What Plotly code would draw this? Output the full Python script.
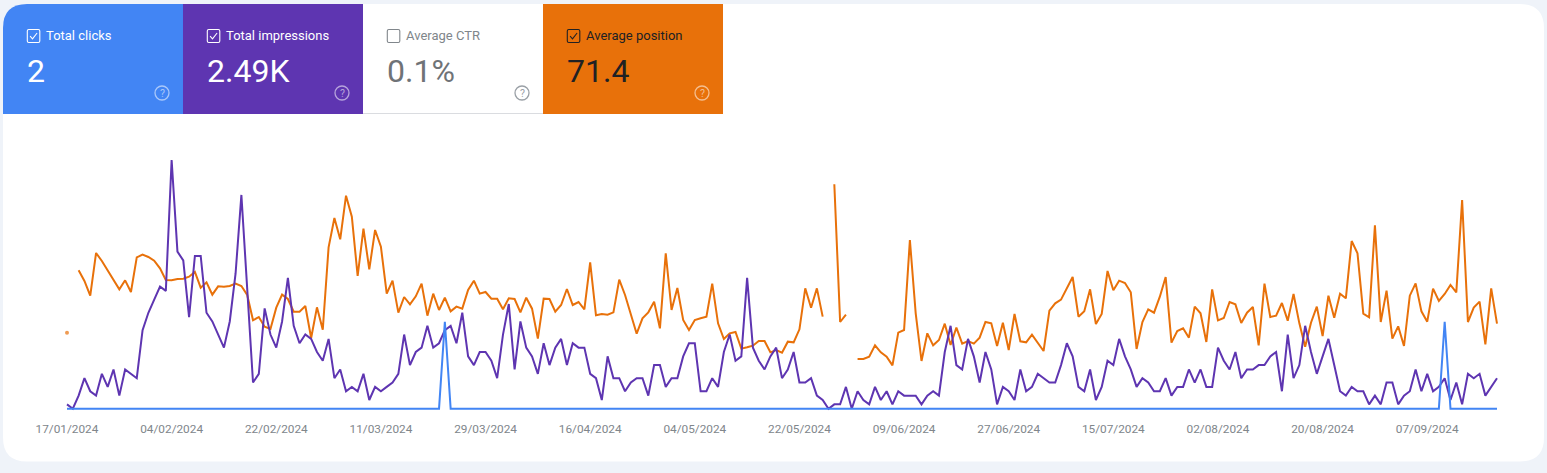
import datetime as dt
import plotly.graph_objects as go

W, H = 1547, 473
START = dt.date(2024, 1, 17)

impressions = [1,0,3,7,4,3,8,5,9,3,9,8,7,18,22,25,28,27,57,36,34,21,35,35,22,20,17,14,20,31,49,28,6,8,23,17,14,20,30,19,15,17,16,13,11,16,7,9,4,5,4,8,2,5,4,5,6,8,17,10,13,14,19,14,15,18,19,15,22,12,10,13,13,11,7,17,24,9,20,14,12,8,15,10,14,16,10,15,14,14,8,7,2,12,7,7,4,6,7,7,3,10,10,5,7,7,12,15,15,4,4,7,5,13,17,11,12,30,14,11,9,12,14,7,9,13,6,6,7,3,2,0,1,1,5,0,4,2,1,5,2,4,1,4,3,3,3,1,3,4,3,13,19,10,9,16,12,6,13,9,1,5,4,2,9,4,5,8,7,6,6,10,15,12,5,4,9,2,5,11,10,16,12,9,5,7,6,4,4,7,3,5,5,9,6,9,5,5,14,11,9,13,7,9,9,10,10,12,13,4,17,7,10,19,13,8,12,16,10,4,3,5,4,4,1,3,1,6,6,1,3,4,9,4,8,4,5,7,2,6,1,8,7,8,3,5,7]

position = [78.8,None,60.1,63.3,67.7,54.9,57.3,60.1,63.0,65.8,63.1,66.6,56.2,55.4,56.1,57.2,59.5,63.0,63.1,62.7,62.6,62.0,60.6,65.3,63.7,67.4,64.9,65.0,64.8,64.1,64.8,67.5,75.1,74.1,77.0,77.7,71.3,67.4,68.7,72.5,72.5,70.8,80.4,71.2,77.9,53.2,44.4,50.8,37.7,44.0,61.8,47.6,59.8,48.0,53.0,67.1,63.2,72.8,68.1,70.3,67.9,64.1,73.7,
67.1,72.0,68.3,72.4,71.0,71.6,66.0,63.2,67.1,66.6,68.6,68.6,71.8,68.5,68.7,72.7,68.3,71.6,80.6,68.6,68.7,72.5,70.5,65.7,70.5,69.6,71.8,57.7,73.6,73.2,73.4,72.7,62.9,67.5,73.0,79.1,74.5,72.7,69.5,77.5,55.0,72.0,65.4,75.0,78.0,75.0,74.5,74.0,64.1,76.0,80.7,79.0,78.6,83.6,83.2,82.7,81.3,81.3,84.7,84.0,84.8,
81.5,81.7,77.8,65.5,71.3,65.5,74.0,None,34.3,75.6,73.4,None,86.7,86.7,86.0,82.6,84.7,86.0,88.6,78.8,78.0,51.0,73.0,87.3,79.0,82.6,81.0,76.1,82.5,77.3,82.1,81.3,82.1,80.3,75.6,76.0,82.8,75.8,84.0,73.2,81.4,81.7,79.4,81.8,84.3,72.2,70.0,68.9,65.5,62.1,74.0,72.4,65.8,76.2,73.2,60.3,66.1,63.2,63.9,66.7,
83.7,75.6,71.8,72.8,68.0,62.1,81.8,78.3,77.5,80.3,71.0,73.0,81.6,65.8,75.1,74.4,69.6,70.3,75.9,72.8,71.1,82.6,64.1,74.1,73.7,69.9,75.2,67.2,76.0,83.0,75.8,71.0,79.8,67.7,74.3,67.1,68.5,51.3,55.0,73.1,74.2,46.6,75.6,66.2,80.6,76.9,82.8,67.7,64.0,72.4,75.5,65.6,69.3,67.2,64.5,66.7,39.0,75.6,71.3,69.5,82.3,65.5,76.1]

click_days = ["2024-03-22", "2024-09-10"]

tick_dates = ["2024-01-17","2024-02-04","2024-02-22","2024-03-11","2024-03-29","2024-04-16","2024-05-04","2024-05-22","2024-06-09","2024-06-27","2024-07-15","2024-08-02","2024-08-20","2024-09-07"]
tick_labels = ["17/01/2024","04/02/2024","22/02/2024","11/03/2024","29/03/2024","16/04/2024","04/05/2024","22/05/2024","09/06/2024","27/06/2024","15/07/2024","02/08/2024","20/08/2024","07/09/2024"]

tile_titles = ["Total clicks", "Total impressions", "Average CTR", "Average position"]
tile_values = ["2", "2.49K", "0.1%", "71.4"]
tile_fill = ["#4285f4", "#5e35b1", "#ffffff", "#e8710a"]
tile_text = ["#ffffff", "#ffffff", "#80868b", "#202124"]
tile_big = ["#ffffff", "#ffffff", "#6f7377", "#202124"]
tile_help = ["rgba(255,255,255,.55)", "rgba(255,255,255,.55)", "#9aa0a6", "rgba(255,255,255,.55)"]
tile_checked = [True, True, False, True]

assert len(impressions) == len(position) == 247
dates = [START + dt.timedelta(days=i) for i in range(len(impressions))]
clicks = [1 if d.isoformat() in click_days else 0 for d in dates]

PX_PER_DAY = 5.813
X0 = 67
L, R, T, B = 60, 1503, 150, 414


def px(x):
    return x / W


def py(y):
    return 1 - y / H


def date_at(x):
    return dt.datetime(2024, 1, 17) + dt.timedelta(days=(x - X0) / PX_PER_DAY)


def P(points, close=True):
    s = "M " + " L ".join(f"{px(a):.5f},{py(b):.5f}" for a, b in points)
    return s + (" Z" if close else "")


def rounded(x0, y0, x1, y1, r):
    tl, tr, br, bl = r if isinstance(r, (list, tuple)) else (r, r, r, r)
    return (
        f"M {px(x0 + tl):.5f},{py(y0):.5f} L {px(x1 - tr):.5f},{py(y0):.5f} "
        f"Q {px(x1):.5f},{py(y0):.5f} {px(x1):.5f},{py(y0 + tr):.5f} "
        f"L {px(x1):.5f},{py(y1 - br):.5f} Q {px(x1):.5f},{py(y1):.5f} {px(x1 - br):.5f},{py(y1):.5f} "
        f"L {px(x0 + bl):.5f},{py(y1):.5f} Q {px(x0):.5f},{py(y1):.5f} {px(x0):.5f},{py(y1 - bl):.5f} "
        f"L {px(x0):.5f},{py(y0 + tl):.5f} Q {px(x0):.5f},{py(y0):.5f} {px(x0 + tl):.5f},{py(y0):.5f} Z"
    )


sizes = [
    4 if position[i] is not None
    and (i == 0 or position[i - 1] is None)
    and (i == len(position) - 1 or position[i + 1] is None) else 0
    for i in range(len(position))
]

fig = go.Figure()
fig.add_trace(go.Scatter(x=dates, y=position, yaxis="y", mode="lines+markers",
                         line=dict(color="#e8710a", width=2),
                         marker=dict(color="#e8710a", size=sizes, line=dict(width=0))))
fig.add_trace(go.Scatter(x=dates, y=impressions, yaxis="y2", mode="lines",
                         line=dict(color="#5e35b1", width=2)))
fig.add_trace(go.Scatter(x=dates, y=clicks, yaxis="y3", mode="lines",
                         line=dict(color="#4285f4", width=2)))

shapes = [dict(type="path", xref="paper", yref="paper", layer="below",
               path=rounded(3, 4, 1544, 461.5, 24), fillcolor="#ffffff", line=dict(width=0))]
annotations = []
TILE_W = 180
for i, title in enumerate(tile_titles):
    x0 = 3 + i * TILE_W
    r = (24, 0, 0, 0) if i == 0 else 0
    shapes.append(dict(type="path", xref="paper", yref="paper", layer="below",
                       path=rounded(x0, 4, x0 + TILE_W, 114, r), fillcolor=tile_fill[i], line=dict(width=0)))
    if i == 2:
        shapes.append(dict(type="path", xref="paper", yref="paper", layer="below",
                           path=P([(x0, 113.5), (x0 + TILE_W, 113.5)], close=False),
                           line=dict(color="#dadce0", width=1)))
    # checkbox
    cx = x0 + 24.3
    shapes.append(dict(type="path", xref="paper", yref="paper",
                       path=rounded(cx, 29.5, cx + 12.5, 42.5, 1.5),
                       line=dict(color=tile_text[i], width=1.1), fillcolor="rgba(0,0,0,0)"))
    if tile_checked[i]:
        shapes.append(dict(type="path", xref="paper", yref="paper",
                           path=P([(cx + 2.8, 36.2), (cx + 5.2, 38.8), (cx + 9.8, 33)], close=False),
                           line=dict(color=tile_text[i], width=1.1)))
    annotations.append(dict(xref="paper", yref="paper", x=px(x0 + 41), y=py(35.5), text=title,
                            showarrow=False, xanchor="left", yanchor="middle",
                            font=dict(family="Roboto", size=13, color=tile_text[i])))
    annotations.append(dict(xref="paper", yref="paper", x=px(x0 + 21.5), y=py(70.5), text=tile_values[i],
                            showarrow=False, xanchor="left", yanchor="middle",
                            font=dict(family="Roboto", size=32, color=tile_big[i])))
    # help icon
    hx, hy = x0 + 159, 93
    shapes.append(dict(type="circle", xref="paper", yref="paper",
                       x0=px(hx - 7), x1=px(hx + 7), y0=py(hy + 7), y1=py(hy - 7),
                       line=dict(color=tile_help[i], width=1.3), fillcolor="rgba(0,0,0,0)"))
    annotations.append(dict(xref="paper", yref="paper", x=px(hx), y=py(hy), text="?",
                            showarrow=False, xanchor="center", yanchor="middle",
                            font=dict(family="Roboto", size=10.5, color=tile_help[i])))

hidden = dict(visible=False, showgrid=False, zeroline=False, fixedrange=True)
dom = [py(B), py(T)]
fig.update_layout(
    width=W, height=H, autosize=False,
    margin=dict(l=0, r=0, t=0, b=0, pad=0, autoexpand=False),
    paper_bgcolor="#eff3f9", plot_bgcolor="rgba(0,0,0,0)",
    showlegend=False, hovermode=False,
    shapes=shapes, annotations=annotations,
    xaxis=dict(domain=[px(L), px(R)], range=[date_at(L), date_at(R)], type="date",
               tickmode="array", tickvals=tick_dates, ticktext=tick_labels,
               tickfont=dict(family="Roboto", size=11.8, color="#80868b"),
               showgrid=False, zeroline=False, showline=False, ticks="outside", ticklen=4,
               tickcolor="rgba(0,0,0,0)", fixedrange=True, automargin=False),
    # position is read with lower (better) values higher up
    yaxis=dict(domain=dom, range=[103.2, 24.0], **hidden),
    yaxis2=dict(domain=dom, range=[-1.21, 59.3], overlaying="y", side="right", **hidden),
    yaxis3=dict(domain=dom, range=[-0.061, 2.974], overlaying="y", side="right", **hidden),
)
fig.write_html("out.html", config=dict(displayModeBar=False),
               post_script="document.body.style.margin='0';document.body.style.background='#eff3f9';")
